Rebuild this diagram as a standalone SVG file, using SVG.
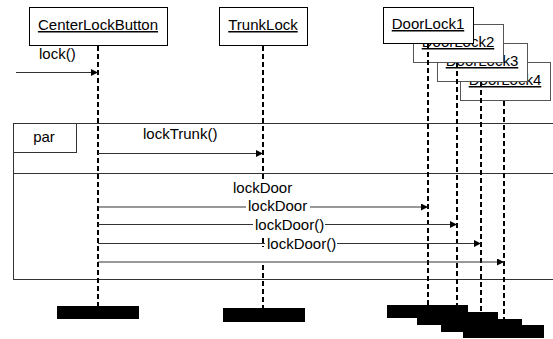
<svg xmlns="http://www.w3.org/2000/svg" width="553" height="339" viewBox="0 0 553 339">
<style>
text{font-family:"Liberation Sans",Arial,sans-serif;font-size:15px;fill:#000}
.obj text{text-anchor:middle;text-decoration:underline}
.box{fill:#fff;stroke:#000;stroke-width:1}
.box2{fill:#fff;stroke:#555;stroke-width:1}
.life{fill:none;stroke:#000;stroke-width:2;stroke-dasharray:5 3}
.msg{fill:none;stroke:#333;stroke-width:1;marker-end:url(#ah)}
.frame{fill:none;stroke:#333;stroke-width:1}
.bg{fill:#fff}
.bar{fill:#000}
</style>
<defs>
<marker id="ah" markerUnits="userSpaceOnUse" markerWidth="7" markerHeight="7" refX="7" refY="3.5" orient="auto">
<path d="M0,0 L7,3.5 L0,7 z" fill="#000"/>
</marker>
</defs>
<g id="par-frame">
<rect class="frame" x="13.5" y="123.5" width="560" height="156"/>
<line class="frame" x1="13" y1="173.5" x2="553" y2="173.5"/>
<rect class="frame" x="13.5" y="123.5" width="63" height="29"/>
<text x="44" y="142" text-anchor="middle">par</text>
</g>
<g id="DoorLock4" class="obj">
<rect class="box2" x="460.5" y="62.5" width="90" height="38"/>
<text x="505" y="85">DoorLock4</text>
</g>
<g id="DoorLock3" class="obj">
<rect class="box2" x="437.5" y="43.5" width="90" height="38"/>
<text x="482" y="66">DoorLock3</text>
</g>
<g id="DoorLock2" class="obj">
<rect class="box2" x="413.5" y="24.5" width="90" height="38"/>
<text x="458" y="47">DoorLock2</text>
</g>
<g id="DoorLock1" class="obj">
<rect class="box" x="383.5" y="7.5" width="90" height="36"/>
<text x="428" y="29">DoorLock1</text>
</g>
<g id="CenterLockButton" class="obj">
<rect class="box" x="29.5" y="7.5" width="138" height="38"/>
<text x="98" y="30">CenterLockButton</text>
</g>
<g id="TrunkLock" class="obj">
<rect class="box" x="219.5" y="7.5" width="88" height="38"/>
<text x="263" y="30">TrunkLock</text>
</g>
<g id="lifelines">
<path class="life" d="M98 46V306"/>
<path class="life" d="M263 46V247M263 265V308"/>
<path class="life" d="M428 44V305"/>
<path class="life" d="M457 63V312"/>
<path class="life" d="M481 82V319"/>
<path class="life" d="M504 101V325"/>
</g>
<g id="connectors">
<line class="msg" x1="16" y1="72.5" x2="98" y2="72.5"/>
<line class="msg" x1="98" y1="153.5" x2="263" y2="153.5"/>
<line class="msg" x1="98" y1="207" x2="428" y2="207"/>
<line class="msg" x1="98" y1="224.5" x2="457" y2="224.5"/>
<line class="msg" x1="98" y1="243.5" x2="481" y2="243.5"/>
<line class="msg" x1="98" y1="262" x2="504" y2="262"/>
</g>
<g id="labels">
<text x="39" y="59">lock()</text>
<text x="143" y="139">lockTrunk()</text>
<rect class="bg" x="232" y="181" width="62" height="17"/>
<text x="233" y="193">lockDoor</text>
<rect class="bg" x="246" y="198" width="64" height="17"/>
<text x="248" y="211">lockDoor</text>
<rect class="bg" x="253" y="215" width="72" height="21"/>
<text x="255" y="230">lockDoor()</text>
<rect class="bg" x="265" y="236" width="72" height="18"/>
<text x="267" y="249">lockDoor()</text>
</g>
<g id="destroy-bars">
<rect class="bar" x="57" y="306" width="82" height="13"/>
<rect class="bar" x="223" y="308" width="82" height="14"/>
<rect class="bar" x="463" y="325" width="81" height="13"/>
<rect class="bar" x="441" y="319" width="81" height="13"/>
<rect class="bar" x="417" y="312" width="81" height="13"/>
<rect class="bar" x="387" y="305" width="81" height="13"/>
</g>
</svg>
